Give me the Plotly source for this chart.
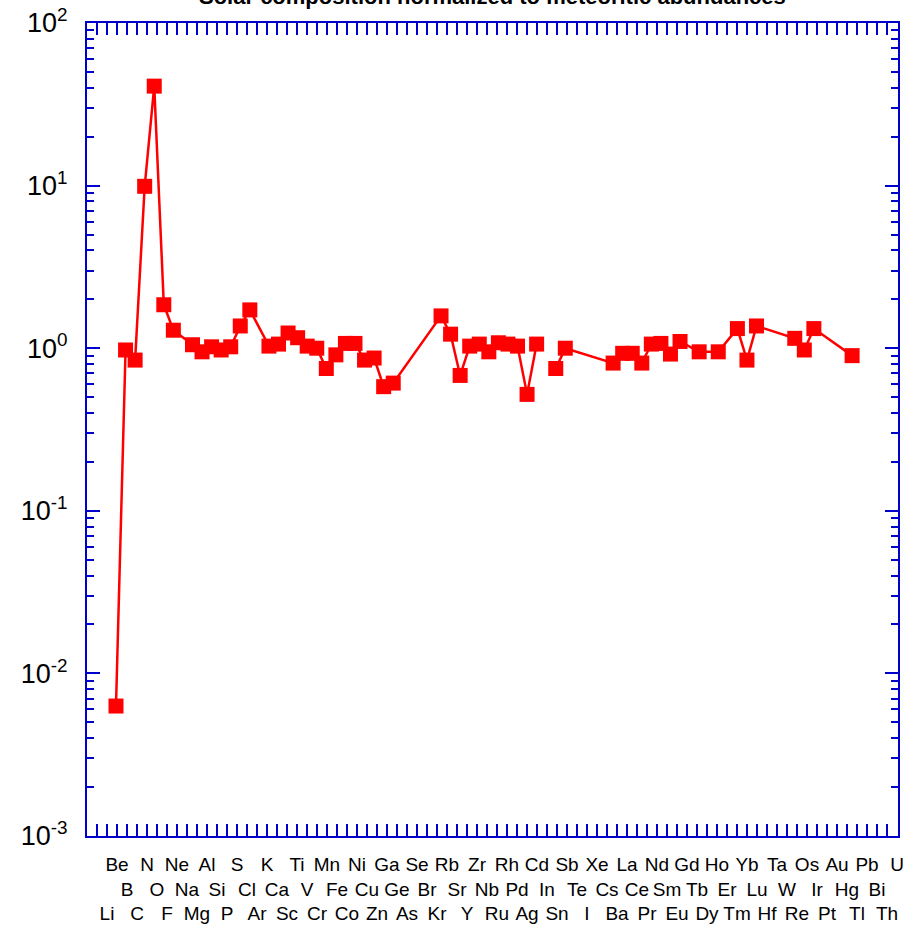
import plotly.graph_objects as go

# Element sequence used on the x axis (index-based, Mo/Tc/Pm/Po..Pa absent)
labels = ["Li", "Be", "B", "C", "N", "O", "F", "Ne", "Na", "Mg", "Al", "Si", "P", "S",
          "Cl", "Ar", "K", "Ca", "Sc", "Ti", "V", "Cr", "Mn", "Fe", "Co", "Ni", "Cu",
          "Zn", "Ga", "Ge", "As", "Se", "Br", "Kr", "Rb", "Sr", "Y", "Zr", "Nb", "Ru",
          "Rh", "Pd", "Ag", "Cd", "In", "Sn", "Sb", "Te", "I", "Xe", "Cs", "Ba", "La",
          "Ce", "Pr", "Nd", "Sm", "Eu", "Gd", "Tb", "Dy", "Ho", "Er", "Tm", "Yb", "Lu",
          "Hf", "Ta", "W", "Re", "Os", "Ir", "Pt", "Au", "Hg", "Tl", "Pb", "Bi", "Th", "U"]

# Elements with a plotted ratio (Sn = None -> line break)
elements = ["Li", "Be", "B", "C", "N", "O", "F", "Na", "Mg", "Al", "Si", "P", "S", "Cl",
            "K", "Ca", "Sc", "Ti", "V", "Cr", "Mn", "Fe", "Co", "Ni", "Cu", "Zn", "Ga",
            "Ge", "Rb", "Sr", "Y", "Zr", "Nb", "Ru", "Rh", "Pd", "Ag", "Cd", "In", "Sn",
            "Sb", "Te", "La", "Ce", "Pr", "Nd", "Sm", "Eu", "Gd", "Tb", "Ho", "Tm", "Lu",
            "Hf", "Ta", "Ir", "Pt", "Au", "Bi"]
ratios = [0.0063, 0.975, 0.845, 9.9, 40.9, 1.85, 1.29, 1.05, 0.95, 1.02, 0.975, 1.02,
          1.37, 1.72, 1.03, 1.06, 1.24, 1.16, 1.03, 1.0, 0.75, 0.91, 1.07, 1.07, 0.845,
          0.87, 0.58, 0.61, 1.58, 1.22, 0.68, 1.03, 1.06, 0.95, 1.08, 1.06, 1.03, 0.52,
          1.06, None, 0.75, 1.0, 0.81, 0.93, 0.93, 0.81, 1.06, 1.07, 0.92, 1.10, 0.95,
          0.95, 1.32, 0.845, 1.37, 1.15, 0.975, 1.32, 0.90]

y_tickvals = [1e-3, 1e-2, 1e-1, 1e0, 1e1, 1e2]
y_ticktext = ["10<sup>-3</sup>", "10<sup>-2</sup>", "10<sup>-1</sup>",
              "10<sup>0</sup>", "10<sup>1</sup>", "10<sup>2</sup>"]
title_text = "Solar composition normalized to meteoritic abundances"

BLUE = "#0000cc"
RED = "#ff0000"
FONT = "Liberation Sans"

x_idx = [labels.index(e) for e in elements]
label_idx = list(range(len(labels)))

# staggered three-row element labels
rows = [3, 1, 2]
tick_text = []
for i, lab in enumerate(labels):
    r = rows[i % 3]
    tick_text.append("\u00a0<br>" * (r - 1) + lab)

minor_vals = [m * 10.0 ** d for d in range(-3, 2) for m in range(2, 10)]

fig = go.Figure()
fig.add_trace(go.Scatter(
    x=x_idx, y=ratios, mode="lines+markers",
    line=dict(color=RED, width=2.5),
    marker=dict(symbol="square", size=15, color=RED),
    connectgaps=False, showlegend=False, xaxis="x", yaxis="y",
))
# empty carrier trace so the element-label axis is drawn
fig.add_trace(go.Scatter(
    x=label_idx, y=[None] * len(labels), mode="markers",
    showlegend=False, hoverinfo="skip", xaxis="x2", yaxis="y",
))

fig.update_layout(
    width=920, height=929,
    margin=dict(l=87, r=22, t=23, b=93),
    paper_bgcolor="white", plot_bgcolor="white",
    font=dict(family=FONT, color="black"),
    showlegend=False,
    xaxis=dict(
        range=[-3.033, 81.8], showgrid=False, zeroline=False,
        showline=True, linecolor=BLUE, linewidth=2, mirror=True,
        ticks="", showticklabels=False, automargin=False,
    ),
    xaxis2=dict(
        overlaying="x", anchor="y", side="bottom",
        range=[-2.0, 79.1], showgrid=False, zeroline=False,
        tickmode="array", tickvals=list(range(-1, 80)),
        ticktext=[""] + tick_text,
        ticks="inside", ticklen=12, tickwidth=2, tickcolor=BLUE,
        mirror="ticks", showline=True, linecolor=BLUE, linewidth=2,
        tickfont=dict(family=FONT, size=19, color="black"),
        ticklabelstandoff=10, tickangle=0, automargin=False,
    ),
    yaxis=dict(
        type="log", range=[-3, 2], showgrid=False, zeroline=False,
        showline=True, linecolor=BLUE, linewidth=2, mirror="ticks",
        tickmode="array", tickvals=y_tickvals, ticktext=y_ticktext,
        ticks="inside", ticklen=13, tickwidth=2, tickcolor=BLUE,
        tickfont=dict(family=FONT, size=27, color="black"),
        ticklabelstandoff=12, automargin=False,
        minor=dict(tickmode="array", tickvals=minor_vals, ticks="inside",
                   ticklen=7, tickwidth=2, tickcolor=BLUE, showgrid=False),
    ),
    annotations=[dict(
        text="<b>" + title_text + "</b>", xref="paper", yref="paper",
        x=0.5, y=1, xanchor="center", yanchor="bottom", yshift=12,
        showarrow=False, font=dict(family=FONT, size=22, color="black"),
    )],
)

fig.write_html("out.html")
